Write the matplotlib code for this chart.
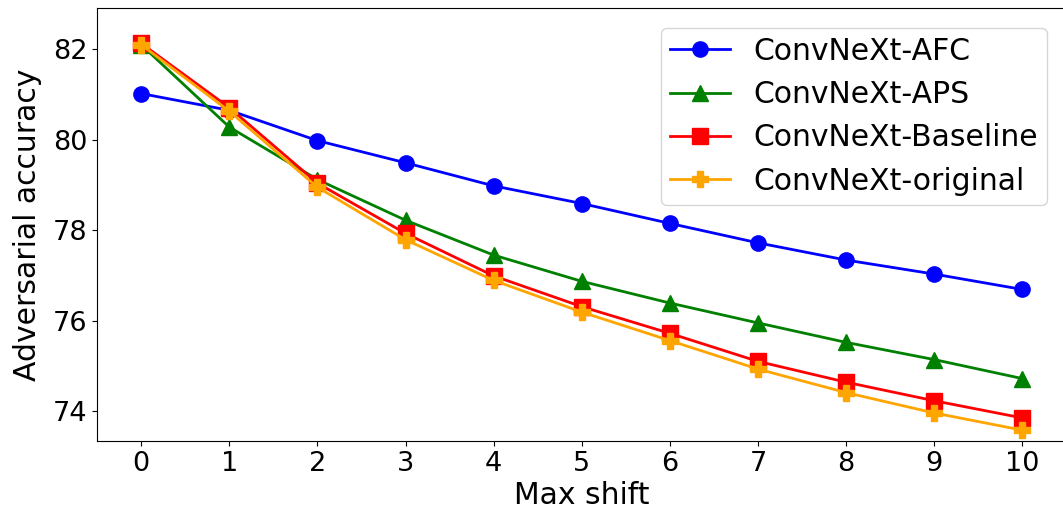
import matplotlib
matplotlib.use("Agg")
import matplotlib.pyplot as plt

max_shift = [0, 1, 2, 3, 4, 5, 6, 7, 8, 9, 10]
afc = [81.02, 80.65, 79.98, 79.49, 78.98, 78.59, 78.15, 77.72, 77.34, 77.03, 76.69]
aps = [82.10, 80.28, 79.12, 78.22, 77.45, 76.87, 76.39, 75.95, 75.52, 75.14, 74.72]
baseline = [82.13, 80.71, 79.04, 77.93, 76.99, 76.31, 75.72, 75.10, 74.64, 74.23, 73.85]
original = [82.10, 80.63, 78.95, 77.79, 76.89, 76.19, 75.56, 74.93, 74.41, 73.96, 73.58]

labels = ["ConvNeXt-AFC", "ConvNeXt-APS", "ConvNeXt-Baseline", "ConvNeXt-original"]

fig = plt.figure(figsize=(10.63, 5.18), dpi=100)
ax = fig.add_axes([0.0913, 0.1477, 0.912, 0.8359])

ms = 11
lw = 2.0
ax.plot(max_shift, afc, color="blue", marker="o", markersize=ms, linewidth=lw, label=labels[0])
ax.plot(max_shift, aps, color="green", marker="^", markersize=ms, linewidth=lw, label=labels[1])
ax.plot(max_shift, baseline, color="red", marker="s", markersize=ms, linewidth=lw, label=labels[2])
ax.plot(max_shift, original, color="orange", marker="P", markersize=ms, linewidth=lw, label=labels[3])

ax.set_xlim(-0.5, 10.5)
ax.set_ylim(73.33, 82.9)
ax.set_xticks(max_shift)
ax.set_yticks([74, 76, 78, 80, 82])
ax.tick_params(labelsize=19.5)
ax.set_xlabel("Max shift", fontsize=21.5, labelpad=3)
ax.set_ylabel("Adversarial accuracy", fontsize=21.5, labelpad=8)
ax.legend(loc="upper right", fontsize=21.5, labelspacing=0.48, borderpad=0.3,
          bbox_to_anchor=(0.9955, 0.99))

fig.savefig("out.png", dpi=100)
